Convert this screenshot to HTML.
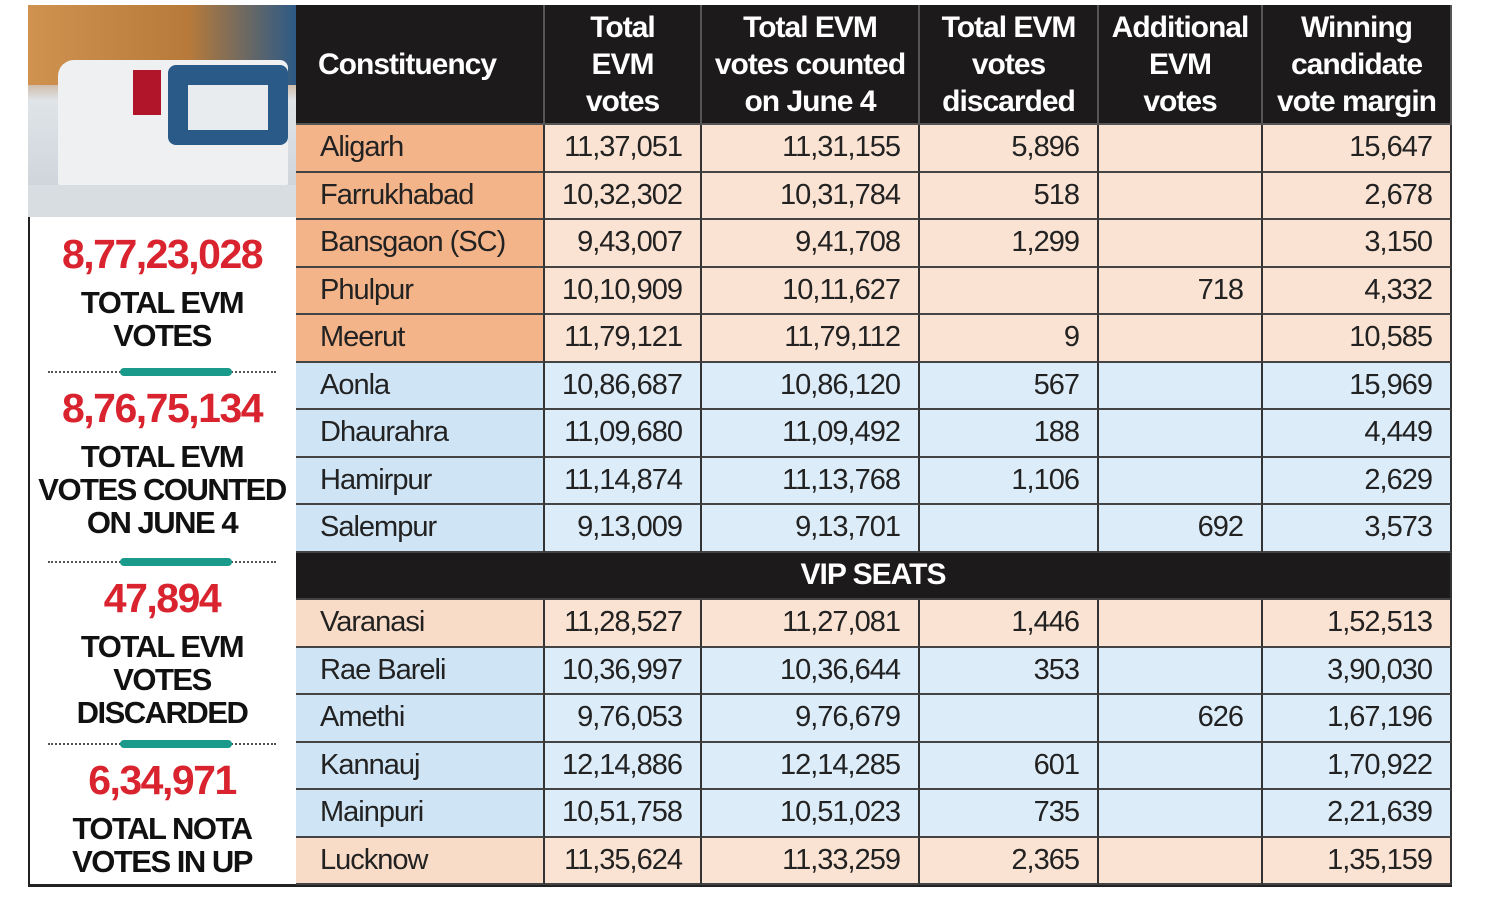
<!DOCTYPE html>
<html><head><meta charset="utf-8"><style>
body{margin:0;width:1500px;height:900px;background:#fff;position:relative;overflow:hidden;font-family:"Liberation Sans Narrow","Liberation Sans",sans-serif;}
#frame{position:absolute;left:28px;top:5px;width:1424px;height:882px;border:2px solid #222;border-right:none;box-sizing:border-box;border-bottom:3px solid #222}
#left{position:absolute;left:28px;top:5px;width:268px;height:882px;}
.img{position:absolute;left:0;top:0;width:268px;height:212px;background:linear-gradient(180deg,#c98a4a 0%,#b37a3c 25%,#dfe4e8 45%,#c9d0d6 100%);overflow:hidden}
.sn{position:absolute;width:268px;text-align:center;color:#d9232e;font-weight:bold;font-size:41px;letter-spacing:-1.5px}
.sl{position:absolute;width:268px;text-align:center;color:#111;font-weight:bold;font-size:31px;line-height:33px;letter-spacing:-1.5px}
.sep{position:absolute;left:20px;width:228px;height:0;border-top:2px dotted #555}
.sep i{position:absolute;left:72px;top:-5px;width:112px;height:8px;border-radius:4px;background:#1a9a8a}
#t{position:absolute;left:296px;top:5px;display:grid;grid-template-columns:249px 157px 218px 179px 164px 189px;grid-template-rows:120px repeat(16,47.5px);}
#t div{box-sizing:border-box;border-right:2px solid #333;border-bottom:2px solid #444;font-size:29px;letter-spacing:-1px;color:#222;display:flex;align-items:center;justify-content:flex-end;padding-right:18px;white-space:nowrap}
#t div.h{background:#1c1a1a;color:#fff;font-weight:bold;justify-content:center;text-align:center;padding:0;line-height:37px;font-size:30px;border-color:#555}
#t div.n{justify-content:flex-start;padding-left:24px;padding-right:0}
#t .o{background:#f4b489}#t .p{background:#fbe3d3}#t .b{background:#cfe4f4}#t .l{background:#dcecf9}#t .q{background:#f9dcc8}
#t div.v{grid-column:1/7;background:#1c1a1a;color:#fff;font-weight:bold;justify-content:center;padding:0;font-size:30px}
</style></head><body>
<div id="frame"></div>
<div id="left">
<div class="img">
<div style="position:absolute;left:0;top:0;width:268px;height:80px;background:linear-gradient(90deg,#d0924f,#b77a3a 60%,#2c5a86)"></div>
<div style="position:absolute;left:30px;top:55px;width:230px;height:130px;background:#eef0f1;border-radius:16px 8px 8px 8px"></div>
<div style="position:absolute;left:140px;top:60px;width:120px;height:80px;background:#2a5b88;border-radius:8px"></div>
<div style="position:absolute;left:160px;top:80px;width:80px;height:45px;background:#e9ecef"></div>
<div style="position:absolute;left:105px;top:65px;width:28px;height:45px;background:#b0152a"></div>
<div style="position:absolute;left:0;top:180px;width:268px;height:32px;background:#d8dde2"></div>
</div>
<div class="sn" style="top:226px">8,77,23,028</div>
<div class="sl" style="top:281px">TOTAL EVM<br>VOTES</div>
<div class="sep" style="top:366px"><i></i></div>
<div class="sn" style="top:380px">8,76,75,134</div>
<div class="sl" style="top:435px">TOTAL EVM<br>VOTES COUNTED<br>ON JUNE 4</div>
<div class="sep" style="top:556px"><i></i></div>
<div class="sn" style="top:570px">47,894</div>
<div class="sl" style="top:625px">TOTAL EVM<br>VOTES<br>DISCARDED</div>
<div class="sep" style="top:738px"><i></i></div>
<div class="sn" style="top:752px">6,34,971</div>
<div class="sl" style="top:807px">TOTAL NOTA<br>VOTES IN UP</div>
</div>
<div id="t">
<div class="h" style="justify-content:flex-start;padding-left:22px">Constituency</div><div class="h">Total<br>EVM<br>votes</div><div class="h">Total EVM<br>votes counted<br>on June 4</div><div class="h">Total EVM<br>votes<br>discarded</div><div class="h">Additional<br>EVM<br>votes</div><div class="h">Winning<br>candidate<br>vote margin</div>
<div class="n o">Aligarh</div><div class="p">11,37,051</div><div class="p">11,31,155</div><div class="p">5,896</div><div class="p"></div><div class="p">15,647</div>
<div class="n o">Farrukhabad</div><div class="p">10,32,302</div><div class="p">10,31,784</div><div class="p">518</div><div class="p"></div><div class="p">2,678</div>
<div class="n o">Bansgaon (SC)</div><div class="p">9,43,007</div><div class="p">9,41,708</div><div class="p">1,299</div><div class="p"></div><div class="p">3,150</div>
<div class="n o">Phulpur</div><div class="p">10,10,909</div><div class="p">10,11,627</div><div class="p"></div><div class="p">718</div><div class="p">4,332</div>
<div class="n o">Meerut</div><div class="p">11,79,121</div><div class="p">11,79,112</div><div class="p">9</div><div class="p"></div><div class="p">10,585</div>
<div class="n b">Aonla</div><div class="l">10,86,687</div><div class="l">10,86,120</div><div class="l">567</div><div class="l"></div><div class="l">15,969</div>
<div class="n b">Dhaurahra</div><div class="l">11,09,680</div><div class="l">11,09,492</div><div class="l">188</div><div class="l"></div><div class="l">4,449</div>
<div class="n b">Hamirpur</div><div class="l">11,14,874</div><div class="l">11,13,768</div><div class="l">1,106</div><div class="l"></div><div class="l">2,629</div>
<div class="n b">Salempur</div><div class="l">9,13,009</div><div class="l">9,13,701</div><div class="l"></div><div class="l">692</div><div class="l">3,573</div>
<div class="v">VIP SEATS</div>
<div class="n q">Varanasi</div><div class="p">11,28,527</div><div class="p">11,27,081</div><div class="p">1,446</div><div class="p"></div><div class="p">1,52,513</div>
<div class="n b">Rae Bareli</div><div class="l">10,36,997</div><div class="l">10,36,644</div><div class="l">353</div><div class="l"></div><div class="l">3,90,030</div>
<div class="n b">Amethi</div><div class="l">9,76,053</div><div class="l">9,76,679</div><div class="l"></div><div class="l">626</div><div class="l">1,67,196</div>
<div class="n b">Kannauj</div><div class="l">12,14,886</div><div class="l">12,14,285</div><div class="l">601</div><div class="l"></div><div class="l">1,70,922</div>
<div class="n b">Mainpuri</div><div class="l">10,51,758</div><div class="l">10,51,023</div><div class="l">735</div><div class="l"></div><div class="l">2,21,639</div>
<div class="n q">Lucknow</div><div class="p">11,35,624</div><div class="p">11,33,259</div><div class="p">2,365</div><div class="p"></div><div class="p">1,35,159</div>
</div>
</body></html>
